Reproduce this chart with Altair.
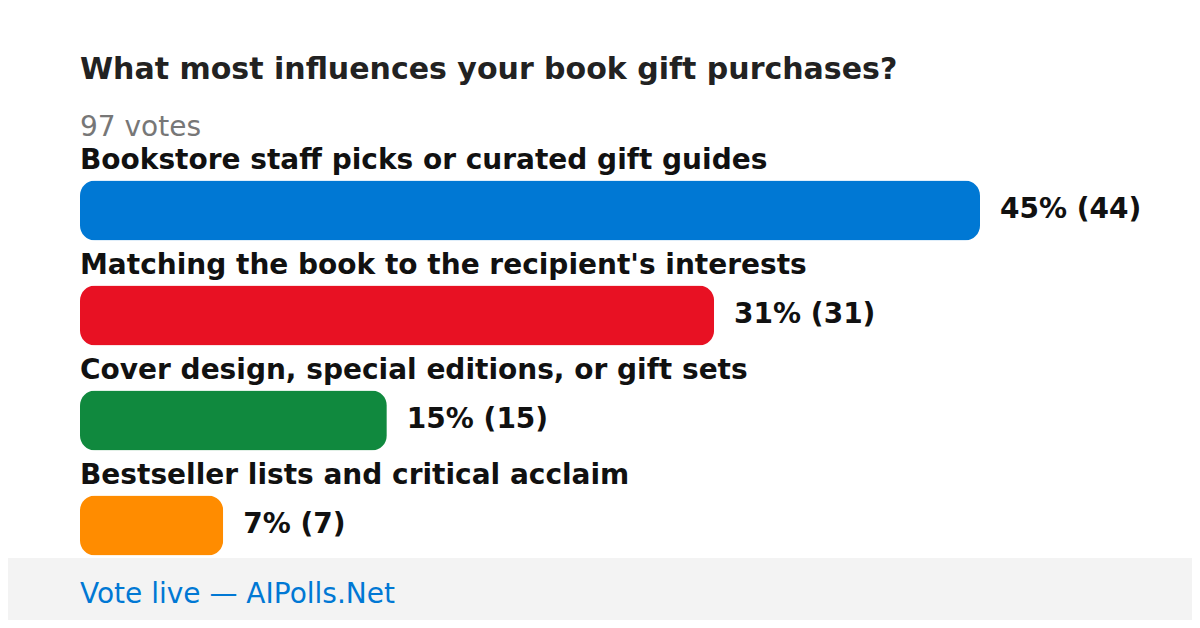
import altair as alt
import pandas as pd

# ---- data ----
categories = [
    "Bookstore staff picks or curated gift guides",
    "Matching the book to the recipient's interests",
    "Cover design, special editions, or gift sets",
    "Bestseller lists and critical acclaim",
]
votes = [44, 31, 15, 7]
percents = [45, 31, 15, 7]
colors = ["#0078D4", "#E81123", "#10893E", "#FF8C00"]
title_text = "What most influences your book gift purchases?"
subtitle_text = "97 votes"
footer_text = "Vote live \u2014 AIPolls.Net"

df = pd.DataFrame({
    "cat": categories,
    "votes": votes,
    "pct": percents,
    "color": colors,
})
df["value_label"] = [f"{p}% ({v})" for p, v in zip(percents, votes)]

FONT = "DejaVu Sans"
W, H = 1184, 612

base = alt.Chart(df)
xscale = alt.Scale(domain=[0, max(votes)], range=[72, 972], nice=False, zero=True)
yscale = alt.Scale(domain=categories, range=[150, 570], paddingInner=0.4286, paddingOuter=0.2143)

x_enc = alt.X("votes:Q", scale=xscale, axis=None)
y_enc = alt.Y("cat:N", scale=yscale, axis=None, sort=categories)

bars = base.mark_bar(cornerRadius=15).encode(
    x=x_enc,
    y=y_enc,
    color=alt.Color("color:N", scale=None),
)

cat_labels = base.mark_text(
    font=FONT, fontSize=28, fontWeight="bold", align="left", baseline="alphabetic",
    dy=-42, color="#111111",
).encode(
    x=alt.value(72),
    y=y_enc,
    text="cat:N",
)

value_labels = base.mark_text(
    font=FONT, fontSize=28, fontWeight="bold", align="left", baseline="middle",
    dx=20, dy=-1, color="#111111",
).encode(
    x=x_enc,
    y=y_enc,
    text="value_label:N",
)

one = alt.Data(values=[{"a": 1}])

footer_bg = alt.Chart(one).mark_rect(color="#f3f3f3").encode(
    x=alt.value(-8), x2=alt.value(W + 8), y=alt.value(550), y2=alt.value(H + 8)
)
footer = alt.Chart(one).mark_text(
    font=FONT, fontSize=28, align="left", baseline="alphabetic", color="#0078D4"
).encode(x=alt.value(72), y=alt.value(595), text=alt.value(footer_text))

title = alt.Chart(one).mark_text(
    font=FONT, fontSize=30, fontWeight="bold", align="left", baseline="alphabetic", color="#222222"
).encode(x=alt.value(72), y=alt.value(71), text=alt.value(title_text))

subtitle = alt.Chart(one).mark_text(
    font=FONT, fontSize=28, align="left", baseline="alphabetic", color="#777777"
).encode(x=alt.value(72), y=alt.value(128), text=alt.value(subtitle_text))

chart = alt.layer(
    footer_bg, footer, title, subtitle, bars, cat_labels, value_labels
).properties(
    width=W, height=H, autosize=alt.AutoSizeParams(type="none"), padding=0,
    background="#ffffff",
).configure_view(strokeWidth=0)

chart.save("out.html", embed_options={"renderer": "svg", "actions": False})
